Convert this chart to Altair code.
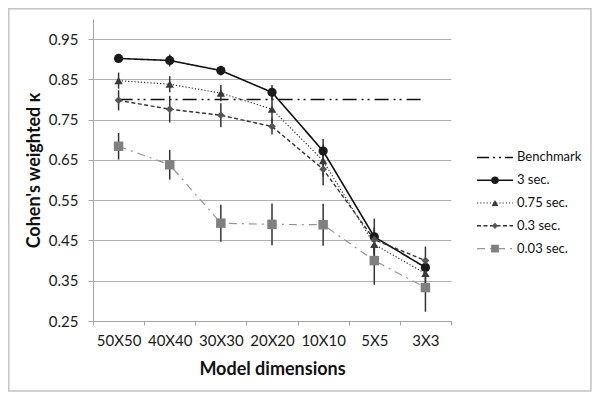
import altair as alt
import pandas as pd

categories = ["50X50", "40X40", "30X30", "20X20", "10X10", "5X5", "3X3"]
series_names = ["3 sec.", "0.75 sec.", "0.3 sec.", "0.03 sec."]
values = {
    "3 sec.":    [0.902, 0.897, 0.872, 0.818, 0.672, 0.459, 0.383],
    "0.75 sec.": [0.847, 0.838, 0.816, 0.776, 0.648, 0.440, 0.368],
    "0.3 sec.":  [0.798, 0.776, 0.761, 0.733, 0.627, 0.452, 0.400],
    "0.03 sec.": [0.684, 0.638, 0.493, 0.490, 0.489, 0.400, 0.333],
}
errors = {
    "3 sec.":    [0.005, 0.015, 0.012, 0.018, 0.030, 0.045, 0.020],
    "0.75 sec.": [0.020, 0.020, 0.020, 0.035, 0.040, 0.040, 0.030],
    "0.3 sec.":  [0.025, 0.033, 0.030, 0.020, 0.040, 0.030, 0.035],
    "0.03 sec.": [0.033, 0.037, 0.046, 0.052, 0.052, 0.060, 0.060],
}
benchmark_value = 0.80
legend_labels = ["Benchmark", "3 sec.", "0.75 sec.", "0.3 sec.", "0.03 sec."]
y_ticks = [0.25, 0.35, 0.45, 0.55, 0.65, 0.75, 0.85, 0.95]

FONT = "Lato"
styles = {
    "3 sec.":    dict(line="#111111", dash=[1, 0], lw=1.6, mcolor="#1a1a1a", shape="circle", size=85, lsize=55),
    "0.75 sec.": dict(line="#333333", dash=[1.2, 2], lw=1.2, mcolor="#3a3a3a", shape="triangle-up", size=70, lsize=45),
    "0.3 sec.":  dict(line="#333333", dash=[4, 2.5], lw=1.4, mcolor="#555555", shape="diamond", size=60, lsize=38),
    "0.03 sec.": dict(line="#959595", dash=[8, 5, 2, 5], lw=1.2, mcolor="#808080", shape="square", size=90, lsize=60),
}

x_enc = alt.X("dim:N", sort=categories,
              scale=alt.Scale(type="band", domain=categories, paddingInner=0, paddingOuter=0),
              axis=alt.Axis(title="Model dimensions", labelAngle=0, tickBand="extent",
                            domainColor="#a6a6a6", tickColor="#a6a6a6", tickSize=4,
                            labelPadding=8, titlePadding=12, labelFontSize=15,
                            titleFontSize=18, titleFontWeight="bold", labelFont=FONT,
                            titleFont=FONT, labelColor="#1a1a1a", titleColor="#111111"))
y_scale = alt.Scale(domain=[0.25, 1.0], zero=False, nice=False)
y_axis = alt.Axis(title="Cohen's weighted κ", values=y_ticks, format=".2f",
                  domainColor="#a6a6a6", tickColor="#a6a6a6", tickSize=5,
                  gridColor="#b0b0b0", gridWidth=1.2, labelPadding=10, titlePadding=5,
                  labelFontSize=15, titleFontSize=18, titleFontWeight="bold",
                  labelFont=FONT, titleFont=FONT, labelColor="#1a1a1a", titleColor="#111111")

# benchmark
bench_df = pd.DataFrame({"dim": categories, "val": [benchmark_value] * len(categories)})
bench = alt.Chart(bench_df).mark_line(color="#111111", strokeWidth=1.5,
                                      strokeDash=[14, 5, 2, 4, 2, 5]).encode(
    x=x_enc, y=alt.Y("val:Q", scale=y_scale, axis=y_axis))

line_layers, err_layers, pt_layers = [], [], []
for s in series_names:
    st = styles[s]
    df = pd.DataFrame({"dim": categories, "val": values[s], "err": errors[s]})
    df["lo"] = df["val"] - df["err"]
    df["hi"] = df["val"] + df["err"]
    line_layers.append(alt.Chart(df).mark_line(color=st["line"], strokeWidth=st["lw"],
                                               strokeDash=st["dash"]).encode(
        x=alt.X("dim:N", sort=categories), y=alt.Y("val:Q")))
    err_layers.append(alt.Chart(df).mark_rule(color="#333333", strokeWidth=1.5).encode(
        x=alt.X("dim:N", sort=categories), y=alt.Y("lo:Q"), y2="hi:Q"))
    pt_layers.append(alt.Chart(df).mark_point(shape=st["shape"], size=st["size"], filled=True,
                                              color=st["mcolor"], opacity=1).encode(
        x=alt.X("dim:N", sort=categories), y=alt.Y("val:Q")))

main = alt.layer(bench, *line_layers, *err_layers, *pt_layers)

# legend
leg_y = alt.Y("label:N", sort=legend_labels,
              scale=alt.Scale(type="point", domain=legend_labels, range=[127, 241]),
              axis=None)
leg_layers = []
bdf = pd.DataFrame({"label": ["Benchmark"]})
leg_layers.append(alt.Chart(bdf).mark_rule(color="#111111", strokeWidth=1.5,
                                           strokeDash=[12, 4, 2, 4, 2, 4]).encode(
    x=alt.value(384), x2=alt.value(420), y=leg_y))
for s in series_names:
    st = styles[s]
    ldf = pd.DataFrame({"label": [s]})
    leg_layers.append(alt.Chart(ldf).mark_rule(color=st["line"], strokeWidth=st["lw"],
                                               strokeDash=st["dash"]).encode(
        x=alt.value(384), x2=alt.value(420), y=leg_y))
    leg_layers.append(alt.Chart(ldf).mark_point(shape=st["shape"], size=st["lsize"], filled=True,
                                                color=st["mcolor"], opacity=1).encode(
        x=alt.value(402), y=leg_y))
tdf = pd.DataFrame({"label": legend_labels})
leg_layers.append(alt.Chart(tdf).mark_text(align="left", baseline="middle", fontSize=13,
                                           font=FONT, color="#111111").encode(
    x=alt.value(424), y=leg_y, text="label:N"))
legend = alt.layer(*leg_layers)

frame_df = pd.DataFrame({"a": [0]})
frame = alt.Chart(frame_df).mark_rect(fill="transparent", stroke="#c4c4c4", strokeWidth=1.5).encode(
    x=alt.value(-84.25), x2=alt.value(498), y=alt.value(-10.25), y2=alt.value(372))

chart = alt.layer(frame, main, legend).resolve_scale(y="independent").properties(
    width=358, height=302, autosize="none",
    padding={"left": 85, "top": 11, "right": 141, "bottom": 72},
    background="white",
).configure_view(strokeWidth=0)

chart.save("out.html", embed_options={"renderer": "svg", "actions": False})
